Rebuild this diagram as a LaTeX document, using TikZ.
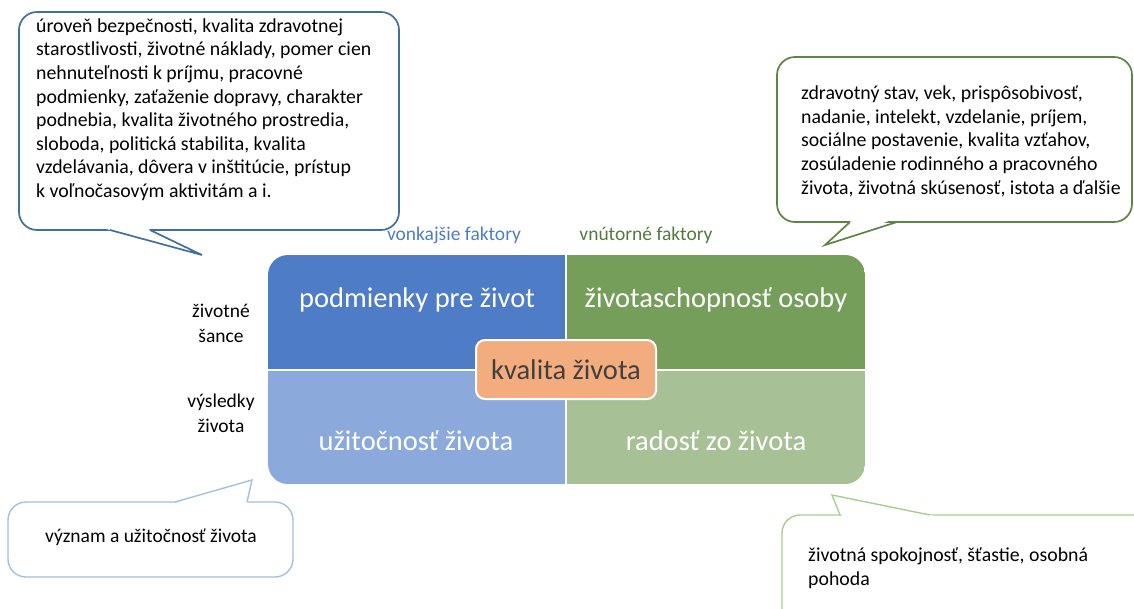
\documentclass[tikz,border=0pt]{standalone}
\usepackage{fontspec}
\setmainfont{Carlito}
\usepackage{tikz}

\definecolor{podmienky}{RGB}{78,124,198}
\definecolor{schopnost}{RGB}{117,158,91}
\definecolor{uzitocnost}{RGB}{140,169,220}
\definecolor{radost}{RGB}{168,192,149}
\definecolor{kvalita}{RGB}{242,172,125}
\definecolor{vonkajsie}{RGB}{66,112,158}
\definecolor{vnutorne}{RGB}{92,134,68}
\definecolor{zmysel}{RGB}{165,192,222}
\definecolor{pohoda}{RGB}{168,206,140}

\begin{document}
\begin{tikzpicture}[x=1pt,y=-1pt]
				\tikzset{quad/.style={text=white, font=\fontsize{28.5}{34}\selectfont, anchor=base, inner sep=0pt}}
				\tikzset{side/.style={font=\fontsize{19.5}{25}\selectfont, align=center, anchor=base, inner sep=0pt}}
				\tikzset{bubble/.style={fill=white, line width=1.7pt, rounded corners=18pt}}
				\tikzset{tail/.style={line width=1.7pt, line join=miter}}
				\tikzset{bubbletext/.style={font=\fontsize{19.8}{23.6}\selectfont, align=left, anchor=base west, inner sep=0pt}}
				\useasboundingbox (0,0) rectangle (1134,608);
				\clip (0,0) rectangle (1134,608);
				%quadrants
				\begin{scope}
					\clip[rounded corners=20pt] (268,255) rectangle (865,484);
					\fill[podmienky] (268,255) rectangle (566,370);
					\fill[schopnost] (566,255) rectangle (865,370);
					\fill[uzitocnost] (268,370) rectangle (566,484);
					\fill[radost] (566,370) rectangle (865,484);
				\end{scope}
				\draw[white, line width=2.5pt] (566,255) -- (566,484) (268,370) -- (865,370);
				\node[quad] (pz) at (417,307) {podmienky pre život};
				\node[quad] (zo) at (716,307) {životaschopnosť osoby};
				\node[quad] (uz) at (416,450) {užitočnosť života};
				\node[quad] (rz) at (716,450) {radosť zo života};
				\node[draw=white, line width=2pt, fill=kvalita, rounded corners=9pt, minimum width=180pt, minimum height=59pt,
					text=black!75, font=\fontsize{28.5}{34}\selectfont] (kz) at (566,369.5) {kvalita života};
				%labels
				\node[side, text=podmienky] (vf) at (454,240) {vonkajšie faktory};
				\node[side, text=vnutorne!90!black] (nf) at (646,240) {vnútorné faktory};
				\node[side] (ss) at (221,342) {životné\\šance};
				\node[side] (vz) at (221,432) {výsledky\\života};
				%callouts
				\draw[bubble, draw=vonkajsie] (19,12) rectangle (399,230);
				\fill[white] (99,227) -- (202,255) -- (144,227) -- cycle;
				\draw[tail, draw=vonkajsie] (110,230) -- (202,255) -- (150,230);
				\node[bubbletext] (tl) at (36,197.5) {úroveň bezpečnosti, kvalita zdravotnej\\
					starostlivosti, životné náklady, pomer cien\\
					nehnuteľnosti k príjmu, pracovné\\
					podmienky, zaťaženie dopravy, charakter\\
					podnebia, kvalita životného prostredia,\\
					sloboda, politická stabilita, kvalita\\
					vzdelávania, dôvera v inštitúcie, prístup\\
					k voľnočasovým aktivitám a i.};
				\draw[bubble, draw=vnutorne] (777,57) rectangle (1132,222);
				\fill[white] (853,219) -- (825,245) -- (894,219) -- cycle;
				\draw[tail, draw=vnutorne] (850,222) -- (825,245) -- (897,222);
				\node[bubbletext] (tr) at (801,194) {zdravotný stav, vek, prispôsobivosť,\\
					nadanie, intelekt, vzdelanie, príjem,\\
					sociálne postavenie, kvalita vzťahov,\\
					zosúladenie rodinného a pracovného\\
					života, životná skúsenosť, istota a ďalšie};
				\draw[bubble, line width=1.4pt, draw=zmysel] (8,502) rectangle (293,577);
				\fill[white] (168,505) -- (252,480) -- (247,505) -- cycle;
				\draw[tail, line width=1.4pt, draw=zmysel] (175,502) -- (252,480) -- (247,502);
				\node[side] (bl) at (151,542) {význam a užitočnosť života};
				\draw[bubble, line width=1.4pt, draw=pohoda] (782,515) rectangle (1160,640);
				\fill[white] (843,518) -- (832,495) -- (944,518) -- cycle;
				\draw[tail, line width=1.4pt, draw=pohoda] (840,515) -- (832,495) -- (930,515);
				\node[bubbletext] (br) at (808,585) {životná spokojnosť, šťastie, osobná\\
					pohoda};
\end{tikzpicture}
\end{document}
